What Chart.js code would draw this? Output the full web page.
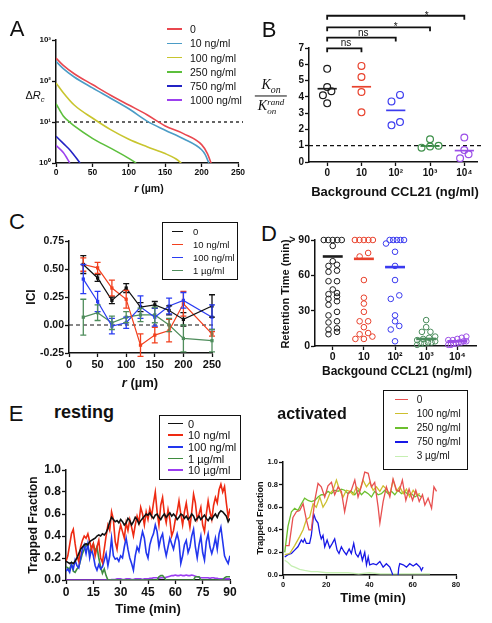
<!DOCTYPE html>
<html>
<head>
<meta charset="utf-8">
<script src="https://cdn.jsdelivr.net/npm/chart.js@4.4.1/dist/chart.umd.min.js"></script>
<style>
  html, body { margin: 0; padding: 0; background: #fff; }
  body { width: 492px; height: 623px; position: relative; overflow: hidden;
         font-family: "Liberation Sans", Arial, sans-serif; color: #111; }
  canvas { position: absolute; }
  .lbl { position: absolute; white-space: nowrap; line-height: 1.15; }
  .box { position: absolute; border: 1.5px solid #111; box-sizing: border-box; background: #fff; }
  .key { position: absolute; }
  sub, sup { font-size: 70%; }
</style>
</head>
<body>
<script>
// ---------------- A : capture radius vs distance ----------------
const aNames = ['0', '10 ng/ml', '100 ng/ml', '250 ng/ml', '750 ng/ml', '1000 ng/ml'];
const aColors = ['#e9474f', '#4b9cc6', '#c8c52e', '#5cbf3c', '#2323c4', '#9c40ee'];
const aR = [
  [0, 10, 25, 50, 75, 100, 125, 150, 175, 200, 208, 213],
  [0, 10, 25, 50, 75, 100, 125, 150, 175, 200, 205, 210],
  [0, 10, 25, 50, 75, 100, 125, 150, 165, 172],
  [0, 10, 20, 25, 50, 75, 100, 110],
  [0, 10, 20, 33],
  [0, 10, 19]
];
const aDeltaR = [
  [360, 240, 150, 82, 45, 26, 15, 8, 5.2, 2.8, 1.7, 1],
  [300, 200, 125, 68, 38, 21, 10.5, 6.3, 3.9, 2.1, 1.6, 1],
  [90, 52, 26, 12.5, 6.5, 3.8, 2.5, 1.7, 1.25, 1],
  [28, 14, 9.5, 8, 4, 2.3, 1.3, 1],
  [4.5, 3, 2, 1],
  [2.7, 1.8, 1]
];
const aXTicks = [0, 50, 100, 150, 200, 250];
const aYTicks = [1, 10, 100, 1000];
const aYLabels = ['10⁰', '10¹', '10²', '10³'];
const aThreshold = 10;

// ---------------- B : Kon / Kon rand ----------------
const bCats = ['0', '10', '10²', '10³', '10⁴'];
const bColors = ['#1c1c1c', '#e8412c', '#3b3bef', '#3c8f48', '#9b4fe8'];
const bRatio = [
  [5.72, 4.6, 4.35, 4.1, 3.6],
  [5.9, 5.22, 4.3, 3.05],
  [4.12, 3.72, 2.45, 2.25],
  [1.4, 1.0, 0.95, 0.88],
  [1.5, 0.73, 0.48, 0.23]
];
const bMedian = [4.5, 4.62, 3.17, 0.98, 0.7];
const bTests = [[0, 1, 'ns'], [0, 2, 'ns'], [0, 3, '*'], [0, 4, '*']];

// ---------------- C : ICI vs r ----------------
const cNames = ['0', '10 ng/ml', '100 ng/ml', '1 µg/ml'];
const cColors = ['#111111', '#f2401e', '#2a3cf2', '#4f8d5c'];
const cR = [25, 50, 75, 100, 125, 150, 175, 200, 250];
const cICI = [
  [0.54, 0.42, 0.22, 0.33, 0.16, 0.18, 0.13, 0.05, 0.17],
  [0.54, 0.51, 0.33, 0.23, -0.18, -0.09, -0.05, 0.19, -0.08],
  [0.41, 0.21, -0.01, 0.02, 0.16, 0.07, 0.17, 0.22, 0.07],
  [0.07, 0.11, 0.02, 0.07, 0.09, 0.09, 0.0, -0.12, -0.14]
];
const cSEM = [
  [0.08, 0.03, 0.03, 0.04, 0.04, 0.03, 0.04, 0.06, 0.1],
  [0.06, 0.05, 0.07, 0.08, 0.1, 0.07, 0.1, 0.11, 0.02],
  [0.13, 0.09, 0.07, 0.05, 0.1, 0.08, 0.07, 0.07, 0.11],
  [0.16, 0.07, 0.06, 0.05, 0.06, 0.07, 0.06, 0.12, 0.1]
];

// ---------------- D : retention time ----------------
const dCats = ['0', '10', '10²', '10³', '10⁴'];
const dColors = ['#1c1c1c', '#e8412c', '#3a3aef', '#4a8c5c', '#9b4de6'];
const dRetention = [
  [90, 90, 90, 90, 90, 85, 72, 69, 68, 64, 63, 55, 55, 48, 45, 44, 42, 40, 38, 35, 29, 26, 21, 20, 15, 14, 12, 10],
  [90, 90, 90, 90, 90, 79, 76, 56, 41, 36, 29, 21, 21, 16, 11, 10, 8, 6, 6],
  [90, 90, 90, 90, 90, 87, 80, 68, 56, 43, 40, 26, 21, 17, 14, 4],
  [22, 16, 12, 12, 8, 7, 6, 5, 4, 3, 3, 2, 2, 1],
  [8, 7, 6, 5, 5, 4, 4, 3, 3, 2, 2, 1, 1]
];
const dMedian = [76, 74, 67, 6, 4];

// ---------------- E : trapped fraction, resting ----------------
const eRestNames = ['0', '10 ng/ml', '100 ng/ml', '1 µg/ml', '10 µg/ml'];
const eRestColors = ['#111111', '#ee2a12', '#2236ee', '#3f8c3f', '#9b3cf0'];
const eRestMin = [0,1,2,3,4,5,6,7,8,9,10,11,12,13,14,15,16,17,18,19,20,21,22,23,24,25,26,27,28,29,30,31,32,33,34,35,36,37,38,39,40,41,42,43,44,45,46,47,48,49,50,51,52,53,54,55,56,57,58,59,60,61,62,63,64,65,66,67,68,69,70,71,72,73,74,75,76,77,78,79,80,81,82,83,84,85,86,87,88,89,90];
const eRest = [
  [.17,.16,.15,.16,.15,.17,.2,.24,.28,.3,.32,.33,.32,.35,.36,.37,.38,.4,.41,.4,.42,.41,.43,.47,.53,.57,.55,.53,.54,.52,.55,.53,.5,.52,.56,.54,.5,.53,.57,.55,.51,.54,.56,.58,.6,.59,.61,.58,.56,.59,.6,.57,.55,.58,.6,.57,.59,.61,.58,.6,.58,.55,.57,.6,.59,.56,.58,.55,.57,.6,.58,.54,.56,.58,.55,.57,.59,.56,.54,.57,.55,.58,.6,.57,.61,.63,.62,.6,.58,.53,.56],
  [.17,.22,.32,.42,.46,.33,.22,.17,.3,.36,.4,.38,.42,.35,.28,.33,.22,.3,.36,.2,.16,.28,.4,.5,.45,.62,.55,.35,.28,.42,.5,.44,.38,.52,.45,.55,.48,.4,.5,.58,.52,.66,.6,.5,.62,.55,.65,.58,.7,.8,.62,.5,.68,.75,.6,.52,.64,.55,.4,.45,.55,.62,.72,.6,.5,.62,.7,.58,.48,.62,.78,.7,.55,.6,.66,.5,.44,.6,.72,.62,.55,.68,.75,.7,.82,.87,.8,.85,.7,.57,.65],
  [.08,.1,.07,.14,.1,.18,.13,.11,.2,.28,.32,.24,.33,.2,.28,.22,.13,.09,.14,.1,.12,.18,.24,.13,.22,.38,.22,.19,.2,.17,.22,.2,.3,.38,.28,.2,.15,.09,.22,.3,.26,.36,.44,.38,.25,.2,.32,.38,.42,.5,.44,.3,.38,.42,.3,.22,.3,.38,.33,.28,.36,.42,.35,.15,.22,.32,.36,.25,.3,.4,.46,.3,.2,.32,.4,.25,.18,.35,.42,.3,.24,.3,.38,.28,.42,.48,.35,.22,.18,.15,.22],
  [.12,.11,.1,.15,.08,.07,.1,.12,.18,.24,.28,.32,.3,.24,.3,.33,.26,.3,.2,.12,.06,.1,.04,0,0,0,0,0,0,0,0,0,0,0,0,0,0,0,0,0,0,0,0,0,0,0,0,0,0,0,0,.03,.04,.04,.02,0,0,0,0,0,0,0,0,0,0,0,0,0,0,0,0,.03,.03,.03,0,0,0,0,0,0,0,0,0,0,0,0,0,.02,.03,.03,.03],
  [0,0,0,0,0,0,0,0,0,0,0,0,0,0,0,0,0,0,0,0,0,0,0,0,0,.005,.005,.005,.01,.01,.01,.005,.005,.01,.01,.01,.005,.005,.01,.01,.01,.01,.005,.01,.01,.01,.015,.015,.02,.02,.02,.015,.02,.02,.02,.025,.03,.035,.04,.04,.045,.04,.04,.045,.04,.04,.045,.04,.04,.045,.04,.035,.03,.025,.02,.02,.02,.02,.02,.015,.02,.02,.015,.015,.01,.01,.01,.01,.01,.01,.01]
];

// ---------------- E : trapped fraction, activated ----------------
const eActNames = ['0', '100 ng/ml', '250 ng/ml', '750 ng/ml', '3 µg/ml'];
const eActColors = ['#e85050', '#cdbf2e', '#6cbf2e', '#1818e6', '#c6efb2'];
const eActMin = [
  [1.2,2.8,4.6,6.2,7.7,9.3,10.8,12,13.1,14.7,16.2,17.7,19.3,20.8,22.4,23.9,25.5,27,28.5,30.1,31.6,33.2,34.7,36.3,37.8,39.4,40.9,42.4,44,44.8,46.3,47.8,49.4,50.9,52.5,53.7,55.2,56.8,58.3,59.9,61.4,63,64.5,65.6,67.1,68.7,69.8,71],
  [0.8,3.1,5.4,7.7,9.3,10.8,12.3,13.9,15.4,17,18.5,20.1,21.6,23.1,24.7,26.2,27.8,29.3,30.9,32.4,34,35.5,37,38.6,40.1,41.7,43.2,44.8,46.3,47.8,49.4,50.9,52.5,54,55.6,57.1,58.6,60.2,61.7,63.3],
  [0.8,2.3,3.9,5.4,6.9,8.5,10,11.6,13.1,14.7,16.2,17.7,19.3,20.8,22.4,23.9,25.5,27,28.5,30.1,31.6,33.2,34.7,36.3,37.8,39.4,40.9,42.4,44,45.5,47.1,48.6,50.2,51.7,53.2,54.8,56.3,57.9,59.4,61,62.5,64],
  [0.8,2.3,3.9,5.4,6.9,8.5,9.3,10,10.8,12.3,13.1,14.2,15.1,16.2,17,17.7,18.5,19.3,20.4,21.6,22.8,23.9,25,25.9,27,28.1,29.3,30.6,31.6,32.7,33.6,34.7,35.8,36.7,37.8,38.6,39.4,40.1,41.7,43.2,44.8,46.3,47.8,49.4,50.6,51.2,53,53.5,54,55.6,57.1,58.6,60.2,61.7,63.3,64,64.8],
  [0.8,2.3,3.9,5.4,7.7,10,13,16,20,25,30,35,40,45,50,55,60,65,68]
];
const eAct = [
  [.26,.26,.51,.56,.57,.63,.49,.4,.4,.66,.81,.78,.69,.79,.82,.71,.78,.74,.56,.72,.75,.84,.69,.79,.91,.9,.78,.82,.6,.46,.65,.78,.69,.85,.75,.74,.84,.66,.76,.66,.75,.65,.71,.62,.68,.59,.78,.74],
  [.18,.19,.26,.34,.4,.49,.51,.63,.6,.69,.6,.65,.72,.75,.84,.75,.69,.75,.74,.71,.78,.75,.84,.78,.82,.75,.78,.74,.79,.76,.71,.84,.74,.78,.72,.76,.69,.75,.71,.72],
  [.2,.43,.56,.59,.57,.63,.68,.66,.65,.66,.69,.71,.71,.74,.72,.75,.74,.76,.75,.72,.74,.71,.75,.71,.74,.72,.69,.74,.71,.72,.75,.72,.74,.71,.75,.72,.74,.71,.72,.69,.71,.69],
  [.16,.18,.19,.22,.25,.31,.29,.32,.28,.28,.35,.54,.49,.46,.37,.32,.35,.25,.31,.24,.28,.32,.22,.19,.25,.21,.18,.23,.19,.28,.19,.16,.21,.13,.2,.09,.16,.09,.1,.09,.12,.07,.1,.07,.01,-.05,-.05,.06,.1,.09,.07,.1,.08,.1,.07,.04,.07],
  [.13,.11,.08,.07,.05,.04,.03,.03,.02,.02,.02,.01,.02,.01,.01,.01,.01,.01,.01]
];

// ================= drawing helpers =================
const FONT = '"Liberation Sans", Arial, sans-serif';
Chart.defaults.font.family = FONT;
Chart.defaults.color = '#111';

function text(html, cx, cy, css, rotate) {
  const d = document.createElement('div');
  d.className = 'lbl';
  d.innerHTML = html;
  d.style.cssText += 'left:' + cx + 'px;top:' + cy + 'px;' + (css || '');
  d.style.transform = 'translate(-50%,-50%)' + (rotate ? ' rotate(-90deg)' : '');
  document.body.appendChild(d);
  return d;
}

function legend(names, colors, o) {
  if (o.box) {
    const b = document.createElement('div');
    b.className = 'box';
    b.style.cssText += 'left:' + o.box[0] + 'px;top:' + o.box[1] + 'px;width:' +
      (o.box[2] - o.box[0]) + 'px;height:' + (o.box[3] - o.box[1]) + 'px';
    document.body.appendChild(b);
  }
  names.forEach((n, i) => {
    const cy = o.y0 + i * o.dy;
    const k = document.createElement('div');
    k.className = 'key';
    k.style.cssText = 'left:' + o.lineX + 'px;top:' + (cy - o.lw / 2) + 'px;width:' + o.len +
      'px;height:' + o.lw + 'px;background:' + colors[i];
    document.body.appendChild(k);
    const t = text(n, o.textX, cy, 'font-size:' + o.font + 'px;');
    t.style.transform = 'translate(0,-50%)';
  });
}

function linAxis(min, max, ticks, size, fmt, extra) {
  return Object.assign({
    type: 'linear', min: min, max: max,
    border: { color: '#111', width: 1.5 },
    grid: { drawOnChartArea: false, drawTicks: true, tickLength: 4, tickWidth: 1.3, tickColor: '#111' },
    ticks: { font: { size: size, weight: 'bold' }, color: '#111', padding: 1, maxRotation: 0, autoSkip: false,
             callback: fmt },
    afterBuildTicks: s => { s.ticks = ticks.map(v => ({ value: v })); }
  }, extra || {});
}

function makeChart(box, pad, datasets, scales, plugins, pluginOpts) {
  const L = Math.round(box[0]), T = Math.round(box[1]), R = Math.round(box[2]), B = Math.round(box[3]);
  const c = document.createElement('canvas');
  const w = R - L + pad[0] + pad[2], h = B - T + pad[1] + pad[3];
  c.width = w; c.height = h;
  c.style.left = (L - pad[0]) + 'px'; c.style.top = (T - pad[1]) + 'px';
  c.style.width = w + 'px'; c.style.height = h + 'px';
  document.body.appendChild(c);
  scales.x.afterFit = s => { s.height = pad[3]; };
  scales.y.afterFit = s => { s.width = pad[0]; };
  return new Chart(c, {
    type: 'scatter',
    data: { datasets: datasets },
    options: {
      responsive: false, animation: false, devicePixelRatio: 1,
      layout: { padding: { left: 0, top: pad[1], right: pad[2], bottom: 0 } },
      scales: scales,
      plugins: Object.assign({ legend: { display: false }, tooltip: { enabled: false } }, pluginOpts || {})
    },
    plugins: plugins || []
  });
}

// dashed reference line through the y scale
const refLine = {
  id: 'refLine',
  beforeDatasetsDraw(chart, args, o) {
    const { ctx, chartArea: a, scales: { y } } = chart;
    const py = y.getPixelForValue(o.value);
    ctx.save();
    ctx.strokeStyle = '#111'; ctx.lineWidth = o.width || 1.3; ctx.setLineDash(o.dash || [4, 3]);
    ctx.beginPath(); ctx.moveTo(a.left, py); ctx.lineTo(a.right + (o.extend || 0), py); ctx.stroke();
    ctx.restore();
  }
};

// vertical error bars from dataset.errors
const errorBars = {
  id: 'errorBars',
  afterDatasetsDraw(chart) {
    const { ctx, scales: { y } } = chart;
    chart.data.datasets.forEach((ds, i) => {
      if (!ds.errors) return;
      const meta = chart.getDatasetMeta(i);
      ctx.save();
      ctx.strokeStyle = ds.borderColor; ctx.lineWidth = 1.3;
      meta.data.forEach((pt, j) => {
        const v = ds.data[j].y, e = ds.errors[j];
        const y0 = y.getPixelForValue(v - e), y1 = y.getPixelForValue(v + e);
        ctx.beginPath();
        ctx.moveTo(pt.x, y0); ctx.lineTo(pt.x, y1);
        ctx.moveTo(pt.x - 3, y0); ctx.lineTo(pt.x + 3, y0);
        ctx.moveTo(pt.x - 3, y1); ctx.lineTo(pt.x + 3, y1);
        ctx.stroke();
      });
      ctx.restore();
    });
  }
};

// significance brackets above panel B
const brackets = {
  id: 'brackets',
  afterDraw(chart, args, o) {
    const { ctx, scales: { x, y } } = chart;
    ctx.save();
    ctx.strokeStyle = '#111'; ctx.fillStyle = '#111'; ctx.lineWidth = 1.8;
    ctx.font = '10px ' + FONT; ctx.textAlign = 'center'; ctx.textBaseline = 'alphabetic';
    o.tests.forEach((t, i) => {
      const x0 = x.getPixelForValue(t[0]), x1 = x.getPixelForValue(t[1]);
      const py = y.getPixelForValue(o.levels[i]);
      ctx.beginPath();
      ctx.moveTo(x0, py + 4); ctx.lineTo(x0, py); ctx.lineTo(x1, py); ctx.lineTo(x1, py + 4);
      ctx.stroke();
      ctx.fillText(t[2], x.getPixelForValue(o.textAt[i]), py + (t[2] === '*' ? 3 : -2));
    });
    ctx.restore();
  }
};

// spread points of each category sideways, row by row (GraphPad-like scatter)
function swarm(chart, groups, step, maxW, rowPx) {
  const xs = chart.scales.x, ys = chart.scales.y;
  const unit = xs.getPixelForValue(1) - xs.getPixelForValue(0);
  groups.forEach((vals, c) => {
    const ds = chart.data.datasets[c];
    const idx = vals.map((v, i) => i).sort((a, b) => vals[a] - vals[b]);
    let row = [];
    const flush = () => {
      const s = row.length > 1 ? Math.min(step, maxW / (row.length - 1)) : 0;
      row.forEach((i, k) => { ds.data[i].x = c + (k - (row.length - 1) / 2) * s / unit; });
      row = [];
    };
    idx.forEach(i => {
      if (row.length && Math.abs(ys.getPixelForValue(vals[i]) - ys.getPixelForValue(vals[row[0]])) >= rowPx) flush();
      row.push(i);
    });
    flush();
  });
  chart.update('none');
}

function lineSet(xs, ys, color, width, extra) {
  return Object.assign({
    data: xs.map((x, i) => ({ x: x, y: ys[i] })),
    showLine: true, borderColor: color, borderWidth: width, pointRadius: 0, fill: false
  }, extra || {});
}

function dotPlot(groups, colors, medians, half, r, lw) {
  const sets = groups.map((vals, c) => ({
    data: vals.map(v => ({ x: c, y: v })),
    pointRadius: r, pointBorderWidth: lw, pointBorderColor: colors[c],
    pointBackgroundColor: 'rgba(0,0,0,0)', borderColor: colors[c], clip: false
  }));
  medians.forEach((m, c) => sets.push(lineSet([c - half, c + half], [m, m], colors[c], lw === 1 ? 2.6 : 1.7, { clip: false })));
  return sets;
}

// ================= panel A =================
makeChart([55.7, 40, 238.3, 163.3], [32, 12, 16, 22],
  aNames.map((n, i) => lineSet(aR[i], aDeltaR[i], aColors[i], 1.6, { cubicInterpolationMode: 'monotone' })),
  {
    x: linAxis(0, 250, aXTicks, 8.5),
    y: Object.assign(linAxis(1, 1000, aYTicks, 8, (v) => aYLabels[aYTicks.indexOf(v)]), { type: 'logarithmic' })
  },
  [refLine], { refLine: { value: aThreshold, extend: 5, dash: [3, 3], width: 1.3 } });

// ================= panel B =================
const chartB = makeChart([309.3, 47.7, 476.7, 161.7], [26, 46, 12, 22],
  dotPlot(bRatio, bColors, bMedian, 0.28, 3.4, 1.2),
  {
    x: linAxis(-0.53, 4.37, [0, 1, 2, 3, 4], 10, (v) => bCats[v]),
    y: linAxis(0, 7, [0, 1, 2, 3, 4, 5, 6, 7], 10, (v) => String(v))
  },
  [refLine, brackets],
  {
    refLine: { value: 1, extend: 6, dash: [4, 3], width: 1.3 },
    brackets: { tests: bTests, levels: [6.98, 7.64, 8.27, 8.98], textAt: [0.55, 1.05, 2.0, 2.9] }
  });
swarm(chartB, bRatio, 8.5, 17.5, 7);

// ================= panel C =================
makeChart([69, 241, 212.3, 353], [32, 10, 16, 22],
  cNames.map((n, i) => lineSet(cR, cICI[i], cColors[i], 1.2, {
    errors: cSEM[i], pointRadius: 2.3, pointStyle: 'rect', pointBackgroundColor: cColors[i],
    pointBorderColor: cColors[i], pointBorderWidth: 0, clip: false
  })),
  {
    x: linAxis(0, 250, [0, 50, 100, 150, 200, 250], 11),
    y: linAxis(-0.25, 0.75, [-0.25, 0, 0.25, 0.5, 0.75], 10.5, (v) => v.toFixed(2))
  },
  [refLine, errorBars], { refLine: { value: 0, extend: 3, dash: [4, 3], width: 1.2 } });

// ================= panel D =================
const chartD = makeChart([315, 240, 476, 346], [32, 10, 12, 22],
  dotPlot(dRetention, dColors, dMedian, 0.32, 2.8, 1),
  {
    x: linAxis(-0.57, 4.6, [0, 1, 2, 3, 4], 10.5, (v) => dCats[v]),
    y: linAxis(0, 90, [0, 30, 60, 90], 10.5, (v) => (v === 90 ? '> 90' : String(v)))
  });
swarm(chartD, dRetention, 8.5, 18, 4.5);

// ================= panel E (resting) =================
makeChart([65.7, 470, 230, 580], [34, 10, 12, 24],
  eRestNames.map((n, i) => lineSet(eRestMin, eRest[i], eRestColors[i], 1.6)),
  {
    x: linAxis(0, 90, [0, 15, 30, 45, 60, 75, 90], 12),
    y: linAxis(0, 1, [0, 0.2, 0.4, 0.6, 0.8, 1], 12, (v) => v.toFixed(1))
  });

// ================= panel E (activated) =================
makeChart([283.3, 461.7, 456, 575], [26, 10, 14, 20],
  eActNames.map((n, i) => lineSet(eActMin[i], eAct[i], eActColors[i], 1.3)),
  {
    x: linAxis(0, 80, [0, 20, 40, 60, 80], 7.5, undefined, {}),
    y: linAxis(0, 1, [0, 0.2, 0.4, 0.6, 0.8, 1], 7.5, (v) => v.toFixed(1))
  });

// ================= text, titles and legends =================
const letter = 'font-size:22px;';
text('A', 17, 29, letter);
text('B', 269, 30, letter);
text('C', 17, 222, letter);
text('D', 269, 234, letter);
text('E', 16, 414, letter);

// A
text('Δ<i>R<sub>c</sub></i>', 35, 97, 'font-size:11px;');
text('<i>r</i> (µm)', 149, 188, 'font-size:10.5px;font-weight:bold;');
legend(aNames, aColors, { lineX: 167, len: 15, lw: 1.8, textX: 190, y0: 29.3, dy: 14.15, font: 10.5 });

// B
text('<div style="display:flex;flex-direction:column;align-items:center;font-family:\'Liberation Serif\',serif;font-style:italic;font-size:14px;line-height:1.15">' +
  '<span>K<sub>on</sub></span>' +
  '<span style="border-top:1px solid #111;padding:2px 3px 0">K<span style="display:inline-flex;flex-direction:column;font-size:9px;line-height:1;vertical-align:5px"><span>rand</span><span>on</span></span></span></div>',
  271, 97, '');
text('Background CCL21 (ng/ml)', 395, 192, 'font-size:13px;font-weight:bold;');

// C
text('ICI', 32, 297, 'font-size:12px;font-weight:bold;', true);
text('<i>r</i> (µm)', 140, 383, 'font-size:13px;font-weight:bold;');
legend(cNames, cColors, { box: [161.7, 221.7, 238, 280], lineX: 171.7, len: 11.3, lw: 1.5, textX: 193, y0: 231.7, dy: 13, font: 9.5 });

// D
text('Retention Time (min)', 285, 294, 'font-size:11px;font-weight:bold;', true);
text('Backgound CCL21 (ng/ml)', 397, 372, 'font-size:12px;font-weight:bold;');

// E resting
text('resting', 84, 412, 'font-size:18px;font-weight:bold;');
text('Trapped Fraction', 34, 525, 'font-size:12px;font-weight:bold;', true);
text('Time (min)', 148, 609, 'font-size:13px;font-weight:bold;');
legend(eRestNames, eRestColors, { box: [159, 415, 241, 480], lineX: 168, len: 15, lw: 1.8, textX: 188, y0: 423.5, dy: 11.7, font: 11 });

// E activated
text('activated', 312, 414, 'font-size:16px;font-weight:bold;');
text('Trapped Fraction', 260, 518, 'font-size:9px;font-weight:bold;', true);
text('Time (min)', 373, 598, 'font-size:13px;font-weight:bold;');
legend(eActNames, eActColors, { box: [382.7, 390, 468, 470], lineX: 395, len: 13, lw: 1.5, textX: 416.7, y0: 399.5, dy: 14.2, font: 10 });
</script>
</body>
</html>
